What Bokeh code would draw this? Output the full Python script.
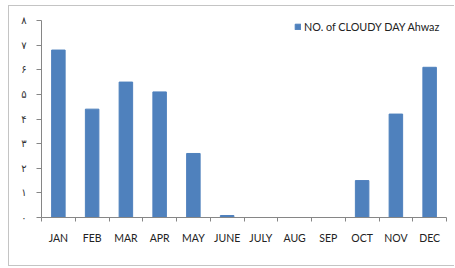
from bokeh.plotting import figure
from bokeh.models import Range1d, FixedTicker, Legend, LegendItem
from bokeh.embed import file_html
from bokeh.resources import INLINE

months = ["JAN", "FEB", "MAR", "APR", "MAY", "JUNE", "JULY", "AUG", "SEP", "OCT", "NOV", "DEC"]
cloudy_days = [6.8, 4.4, 5.5, 5.1, 2.6, 0.08, 0, 0, 0, 1.5, 4.2, 6.1]
y_ticks = [0, 1, 2, 3, 4, 5, 6, 7, 8]
y_tick_labels = ["۰", "۱", "۲", "۳", "۴", "۵", "۶", "۷", "۸"]
series_name = "NO. of CLOUDY DAY Ahwaz"

x_centers = [i + 0.5 for i in range(len(months))]
x_bounds = list(range(len(months) + 1))

p = figure(width=446, height=261, output_backend="svg", toolbar_location=None,
           x_range=Range1d(0, len(months)), y_range=Range1d(0, 8),
           min_border_left=32, min_border_right=9, min_border_top=14, min_border_bottom=50)
p.styles = {"margin-left": "8px", "margin-top": "5px",
            "border-left": "1px solid #c4c4c4", "border-top": "1px solid #c4c4c4",
            "border-bottom": "1px solid #c4c4c4"}
p.outline_line_color = None
p.grid.visible = False
p.background_fill_color = "white"
p.border_fill_color = "white"

r = p.vbar(x=x_centers, top=cloudy_days, width=0.4, fill_color="#4f81bd", line_color="#4f81bd")

xa = p.xaxis[0]
xa.ticker = FixedTicker(ticks=x_centers, minor_ticks=x_bounds)
xa.major_label_overrides = {c: m for c, m in zip(x_centers, months)}
xa.major_tick_line_color = None
xa.minor_tick_out = 4
xa.minor_tick_in = 0
xa.minor_tick_line_color = "#868686"
xa.axis_line_color = "#868686"
xa.major_label_text_font = "Lato"
xa.major_label_text_font_size = "10.5px"
xa.major_label_text_color = "#222222"
xa.major_label_standoff = 8

ya = p.yaxis[0]
ya.ticker = FixedTicker(ticks=y_ticks, minor_ticks=[])
ya.major_label_overrides = {t: l for t, l in zip(y_ticks, y_tick_labels)}
ya.major_tick_out = 5
ya.major_tick_in = 0
ya.major_tick_line_color = "#868686"
ya.axis_line_color = "#868686"
ya.major_label_text_font = "DejaVu Sans"
ya.major_label_text_font_size = "10px"
ya.major_label_text_color = "#333333"
ya.major_label_standoff = 10

legend = Legend(items=[LegendItem(label=series_name, renderers=[r])],
                location=(253, 184), padding=0, margin=0, spacing=0,
                glyph_width=7, glyph_height=7, label_height=12, label_standoff=3,
                label_text_font="Lato", label_text_font_size="10.8px", label_text_color="#222222",
                border_line_color=None, background_fill_alpha=0)
p.add_layout(legend, "center")

open("out.html", "w").write(file_html(p, INLINE))
